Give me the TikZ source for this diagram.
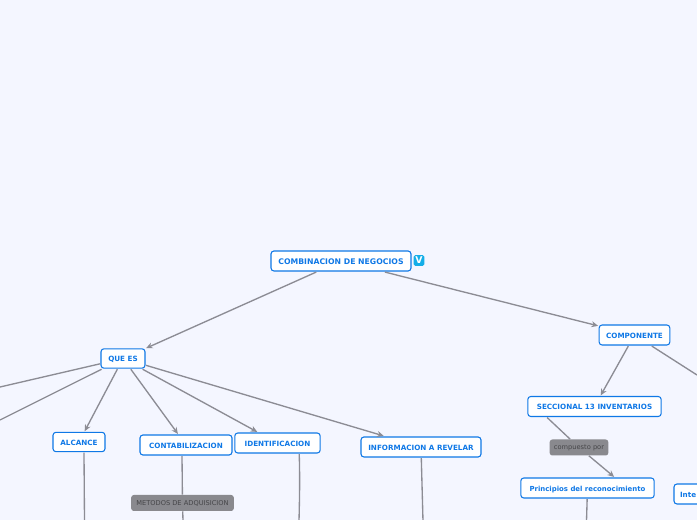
\documentclass[tikz,border=0pt]{standalone}
\usepackage{fontspec}
\setmainfont{DejaVu Sans}
\usetikzlibrary{
  positioning,
  arrows.meta
}
\definecolor{canvas}{HTML}{F4F6FF}
\definecolor{topic}{HTML}{0F78E6}
\definecolor{edgeline}{HTML}{8C8C94}
\definecolor{tagfill}{HTML}{89898E}
\definecolor{tagtext}{HTML}{454548}
\definecolor{badge}{HTML}{14AEE8}
\tikzset{
  topicframe/.style={draw=topic, fill=white, rounded corners=2.2pt, line width=0.8pt},
  topictext/.style={text=topic, font=\fontsize{5.4pt}{6pt}\selectfont\bfseries, text height=4.6pt, text depth=0pt,
    inner sep=0pt, outer sep=0.8pt},
  topicbox/.style={topicframe, topictext},
  tagbox/.style={fill=tagfill, rounded corners=2pt, text=tagtext,
    font=\fontsize{5pt}{6pt}\selectfont, inner sep=0pt},
  link/.style={draw=edgeline, line width=1pt},
  linkto/.style={link, -{Stealth[length=5pt,width=4.5pt]}}
}
\begin{document}
\begin{tikzpicture}[x=0.75pt, y=-0.75pt]
  % Page
  \fill[canvas] (0,0) rectangle (697,520);
  \useasboundingbox (0,0) rectangle (697,520);

  % Topics
  \node[topicbox, font=\fontsize{5.8pt}{6pt}\selectfont\bfseries, minimum width=105pt, minimum height=15pt] (root) at (341,261) {COMBINACION DE NEGOCIOS};
  \node[topicbox, minimum width=33pt, minimum height=14.5pt] (quees) at (123,358.5) {QUE ES};
  \node[topicbox, minimum width=39pt, minimum height=14.5pt] (alcance) at (79,442) {ALCANCE};
  \node[topicbox, minimum width=69pt, minimum height=15pt] (contab) at (186,445) {CONTABILIZACION};
  \node[topicbox, minimum width=64pt, minimum height=15pt] (identif) at (277.5,443) {IDENTIFICACION};
  \node[topicbox, minimum width=90pt, minimum height=15pt] (info) at (421,447) {INFORMACION A REVELAR};
  \node[topicbox, minimum width=53pt, minimum height=15pt] (componente) at (634.5,335) {COMPONENTE};
  \node[topicbox, minimum width=100pt, minimum height=15pt] (seccional) at (594.5,406.5) {SECCIONAL 13 INVENTARIOS};
  \node[topicbox, font=\fontsize{5.2pt}{6pt}\selectfont\bfseries, minimum width=100pt, minimum height=15pt] (principios) at (587.5,488) {Principios del reconocimiento};
  \draw[topicframe] (674,484) rectangle (720,504);
  \node[topictext, anchor=west, outer sep=0pt] (inte) at (680,494.5) {Inte};

  % Tags on the links
  \node[tagbox, minimum width=44pt, minimum height=12pt] (compuesto) at (579,447.5) {compuesto por};
  \node[tagbox, minimum width=77pt, minimum height=12pt] (metodos) at (182.5,503) {METODOS DE ADQUISICION};

  % Badge
  \node[fill=badge, rounded corners=1.2pt, text=white, font=\fontsize{7pt}{7pt}\selectfont\bfseries,
    minimum size=8pt, inner sep=0pt] (vimeo) at (419,260.5) {V};

  % Free ends
  \coordinate (offa) at (0,387);
  \coordinate (offb) at (0,420);
  \coordinate (offc) at (697,375);
  \coordinate (downa) at (84.5,521);
  \coordinate (downb) at (183,521);
  \coordinate (downc) at (299,521);
  \coordinate (downd) at (423,521);
  \coordinate (downe) at (586.5,521);

  % Links
  \draw[linkto] (root) -- (quees);
  \draw[linkto] (root) -- (componente);
  \foreach \target in {alcance,contab,identif,info} {
    \draw[linkto] (quees) -- (\target);
  }
  \draw[link] (quees) -- (offa);
  \draw[link] (quees) -- (offb);
  \draw[linkto] (componente) -- (seccional);
  \draw[link] (componente) -- (offc);
  \draw[link] ([xshift=-35.5pt]seccional.south) -- (compuesto);
  \draw[linkto] (compuesto) -- ([xshift=20pt]principios.north);
  \draw[link] ([xshift=-3pt]contab.south) -- (metodos);
  \draw[link] (metodos) -- (downb);
  \draw[link] ([xshift=3.75pt]alcance.south) -- (downa);
  \draw[link] ([xshift=16.3pt]identif.south) .. controls (300,480) and (299.5,500) .. (downc);
  \draw[link] (info) -- (downd);
  \draw[link] (principios) -- (downe);
\end{tikzpicture}
\end{document}
